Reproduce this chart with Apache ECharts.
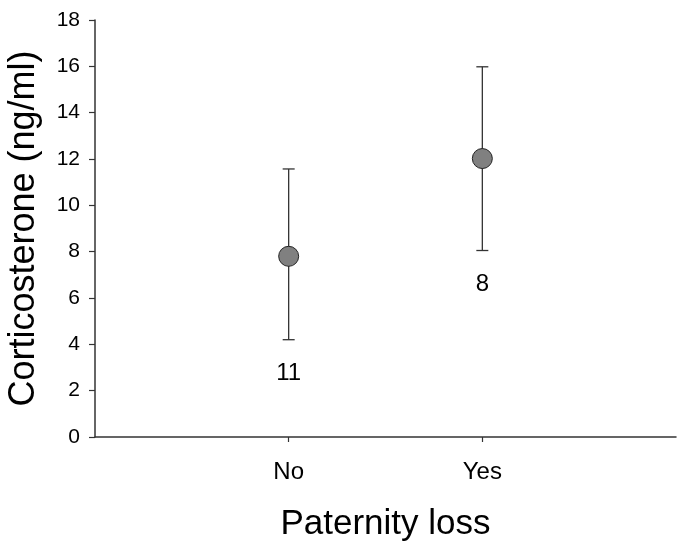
<!DOCTYPE html>
<html>
<head>
<meta charset="utf-8">
<script src="https://cdn.jsdelivr.net/npm/echarts@6/dist/echarts.min.js"></script>
<style>html,body{margin:0;padding:0;background:#fff}#c{width:685px;height:549px}</style>
</head>
<body>
<div id="c"></div>
<script>
var categories = ['No', 'Yes'];
var categoryPos = [1, 2];
var means = [7.8, 12.02];
var upper = [11.57, 15.98];
var lower = [4.2, 8.05];
var sampleSizes = ['11', '8'];
var yTicks = [0, 2, 4, 6, 8, 10, 12, 14, 16, 18];

var FONT = '"Liberation Sans", Arial, sans-serif';
var INK = '#333333';

var chart = echarts.init(document.getElementById('c'), null, {renderer: 'canvas'});

var errData = categoryPos.map(function (x, i) { return [x, lower[i], upper[i]]; });
var pointData = categoryPos.map(function (x, i) { return [x, means[i]]; });
var nData = categoryPos.map(function (x, i) { return [x, lower[i], sampleSizes[i]]; });

chart.setOption({
  animation: false,
  backgroundColor: '#ffffff',
  grid: {left: 95, right: 9, top: 20, bottom: 112, containLabel: false, outerBoundsMode: 'none'},
  xAxis: {
    type: 'value', min: 0, max: 3, interval: 1,
    name: 'Paternity loss', nameLocation: 'middle', nameGap: 70,
    nameTextStyle: {fontFamily: FONT, fontSize: 35, color: '#000'},
    axisLine: {show: true, onZero: false, lineStyle: {color: INK, width: 1.5}},
    axisTick: {show: true, customValues: categoryPos, length: 5, lineStyle: {color: INK, width: 1.2}},
    axisLabel: {
      customValues: categoryPos, margin: 23, fontFamily: FONT, fontSize: 24, color: '#000',
      formatter: function (v) { var i = categoryPos.indexOf(v); return i >= 0 ? categories[i] : ''; }
    },
    splitLine: {show: false}
  },
  yAxis: {
    type: 'value', min: 0, max: 18, interval: 2,
    name: 'Corticosterone (ng/ml)', nameLocation: 'middle', nameGap: 53, nameRotate: 90,
    nameTextStyle: {fontFamily: FONT, fontSize: 36, color: '#000'},
    axisLine: {show: true, lineStyle: {color: INK, width: 1.5}},
    axisTick: {show: true, length: 6, lineStyle: {color: INK, width: 1.2}},
    axisLabel: {margin: 15, fontFamily: FONT, fontSize: 21, color: '#000',
      formatter: function (v) { return yTicks.indexOf(v) >= 0 ? String(v) : ''; }},
    splitLine: {show: false}
  },
  series: [
    {
      type: 'custom',
      data: errData,
      z: 2,
      renderItem: function (params, api) {
        var x = api.value(0);
        var lo = api.coord([x, api.value(1)]);
        var hi = api.coord([x, api.value(2)]);
        var hw = 6;
        var style = {stroke: INK, lineWidth: 1.3};
        return {type: 'group', children: [
          {type: 'line', shape: {x1: lo[0], y1: lo[1], x2: hi[0], y2: hi[1]}, style: style},
          {type: 'line', shape: {x1: hi[0] - hw, y1: hi[1], x2: hi[0] + hw, y2: hi[1]}, style: style},
          {type: 'line', shape: {x1: lo[0] - hw, y1: lo[1], x2: lo[0] + hw, y2: lo[1]}, style: style}
        ]};
      }
    },
    {
      type: 'scatter',
      data: pointData,
      z: 3,
      symbol: 'circle',
      symbolSize: 20,
      itemStyle: {color: '#808080', borderColor: '#222', borderWidth: 1, opacity: 1}
    },
    {
      type: 'custom',
      data: nData,
      z: 4,
      renderItem: function (params, api) {
        var p = api.coord([api.value(0), api.value(1)]);
        return {type: 'text', x: p[0], y: p[1] + 34, style: {
          text: sampleSizes[params.dataIndex], fontFamily: FONT, fontSize: 24, fill: '#000',
          align: 'center', verticalAlign: 'middle'}};
      }
    }
  ]
});
</script>
</body>
</html>
